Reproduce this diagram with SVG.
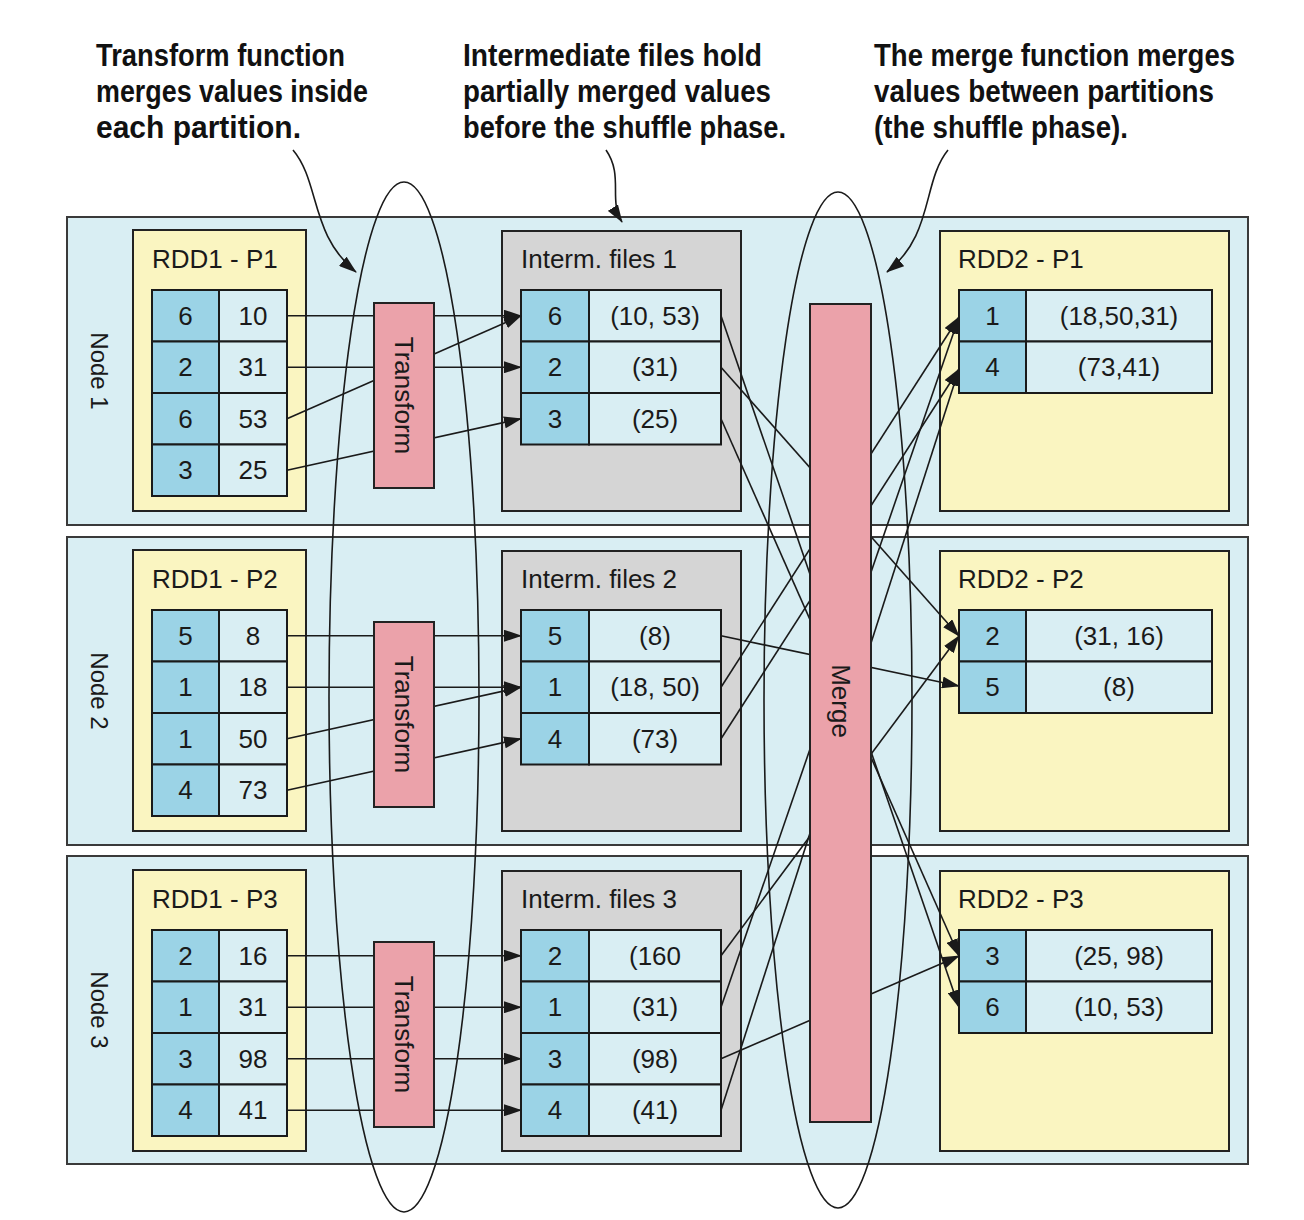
<svg xmlns="http://www.w3.org/2000/svg" width="1304" height="1220" viewBox="0 0 1304 1220">
<style>
.node{fill:#d9eef3;stroke:#3a3a3a;stroke-width:2}
.part{fill:#faf5c1;stroke:#222;stroke-width:2}
.interm{fill:#d5d5d5;stroke:#222;stroke-width:2}
.key{fill:#9bd3e6;stroke:#1a1a1a;stroke-width:2}
.val{fill:#d9eef3;stroke:#1a1a1a;stroke-width:2}
.fn{fill:#eba2aa;stroke:#222;stroke-width:2}
.t{font-family:"Liberation Sans",Arial,sans-serif;font-size:26px;fill:#1a1a1a}
.c{text-anchor:middle}
.nl{font-size:24px}
.conn line,.conn path{stroke:#1a1a1a;stroke-width:1.6;fill:none;marker-end:url(#ah)}
.ell{fill:none;stroke:#1a1a1a;stroke-width:1.6}
.ann{font-family:"Liberation Sans",Arial,sans-serif;font-weight:bold;font-size:31px;fill:#111}
</style>
<defs>
<marker id="ah" markerUnits="userSpaceOnUse" markerWidth="18" markerHeight="12" refX="17" refY="6" orient="auto"><path d="M0,0 L18,6 L0,12 z" fill="#1a1a1a"/></marker>
</defs>

<g id="node1">
<rect class="node" x="67" y="217" width="1181" height="308"/>
<text class="t c nl" transform="translate(100,371) rotate(90)" x="0" y="9">Node 1</text>
</g>
<g id="node2">
<rect class="node" x="67" y="537" width="1181" height="308"/>
<text class="t c nl" transform="translate(100,691) rotate(90)" x="0" y="9">Node 2</text>
</g>
<g id="node3">
<rect class="node" x="67" y="856" width="1181" height="308"/>
<text class="t c nl" transform="translate(100,1010) rotate(90)" x="0" y="9">Node 3</text>
</g>

<g id="rdd1-p1">
<rect class="part" x="133" y="230" width="173" height="281"/>
<text class="t" x="152" y="268">RDD1 - P1</text>
<rect class="key" x="152" y="290" width="67" height="51.5"/><rect class="val" x="219" y="290" width="68" height="51.5"/>
<rect class="key" x="152" y="341.5" width="67" height="51.5"/><rect class="val" x="219" y="341.5" width="68" height="51.5"/>
<rect class="key" x="152" y="393" width="67" height="51.5"/><rect class="val" x="219" y="393" width="68" height="51.5"/>
<rect class="key" x="152" y="444.5" width="67" height="51.5"/><rect class="val" x="219" y="444.5" width="68" height="51.5"/>
<text class="t c" x="185.5" y="324.75">6</text><text class="t c" x="253" y="324.75">10</text>
<text class="t c" x="185.5" y="376.25">2</text><text class="t c" x="253" y="376.25">31</text>
<text class="t c" x="185.5" y="427.75">6</text><text class="t c" x="253" y="427.75">53</text>
<text class="t c" x="185.5" y="479.25">3</text><text class="t c" x="253" y="479.25">25</text>
</g>
<g id="rdd1-p2">
<rect class="part" x="133" y="550" width="173" height="281"/>
<text class="t" x="152" y="588">RDD1 - P2</text>
<rect class="key" x="152" y="610" width="67" height="51.5"/><rect class="val" x="219" y="610" width="68" height="51.5"/>
<rect class="key" x="152" y="661.5" width="67" height="51.5"/><rect class="val" x="219" y="661.5" width="68" height="51.5"/>
<rect class="key" x="152" y="713" width="67" height="51.5"/><rect class="val" x="219" y="713" width="68" height="51.5"/>
<rect class="key" x="152" y="764.5" width="67" height="51.5"/><rect class="val" x="219" y="764.5" width="68" height="51.5"/>
<text class="t c" x="185.5" y="644.75">5</text><text class="t c" x="253" y="644.75">8</text>
<text class="t c" x="185.5" y="696.25">1</text><text class="t c" x="253" y="696.25">18</text>
<text class="t c" x="185.5" y="747.75">1</text><text class="t c" x="253" y="747.75">50</text>
<text class="t c" x="185.5" y="799.25">4</text><text class="t c" x="253" y="799.25">73</text>
</g>
<g id="rdd1-p3">
<rect class="part" x="133" y="870" width="173" height="281"/>
<text class="t" x="152" y="908">RDD1 - P3</text>
<rect class="key" x="152" y="930" width="67" height="51.5"/><rect class="val" x="219" y="930" width="68" height="51.5"/>
<rect class="key" x="152" y="981.5" width="67" height="51.5"/><rect class="val" x="219" y="981.5" width="68" height="51.5"/>
<rect class="key" x="152" y="1033" width="67" height="51.5"/><rect class="val" x="219" y="1033" width="68" height="51.5"/>
<rect class="key" x="152" y="1084.5" width="67" height="51.5"/><rect class="val" x="219" y="1084.5" width="68" height="51.5"/>
<text class="t c" x="185.5" y="964.75">2</text><text class="t c" x="253" y="964.75">16</text>
<text class="t c" x="185.5" y="1016.25">1</text><text class="t c" x="253" y="1016.25">31</text>
<text class="t c" x="185.5" y="1067.75">3</text><text class="t c" x="253" y="1067.75">98</text>
<text class="t c" x="185.5" y="1119.25">4</text><text class="t c" x="253" y="1119.25">41</text>
</g>

<g id="interm1">
<rect class="interm" x="502" y="231" width="239" height="280"/>
<text class="t" x="521" y="268">Interm. files 1</text>
<rect class="key" x="521" y="290" width="68" height="51.5"/><rect class="val" x="589" y="290" width="132" height="51.5"/>
<rect class="key" x="521" y="341.5" width="68" height="51.5"/><rect class="val" x="589" y="341.5" width="132" height="51.5"/>
<rect class="key" x="521" y="393" width="68" height="51.5"/><rect class="val" x="589" y="393" width="132" height="51.5"/>
<text class="t c" x="555" y="324.75">6</text><text class="t c" x="655" y="324.75">(10, 53)</text>
<text class="t c" x="555" y="376.25">2</text><text class="t c" x="655" y="376.25">(31)</text>
<text class="t c" x="555" y="427.75">3</text><text class="t c" x="655" y="427.75">(25)</text>
</g>
<g id="interm2">
<rect class="interm" x="502" y="551" width="239" height="280"/>
<text class="t" x="521" y="588">Interm. files 2</text>
<rect class="key" x="521" y="610" width="68" height="51.5"/><rect class="val" x="589" y="610" width="132" height="51.5"/>
<rect class="key" x="521" y="661.5" width="68" height="51.5"/><rect class="val" x="589" y="661.5" width="132" height="51.5"/>
<rect class="key" x="521" y="713" width="68" height="51.5"/><rect class="val" x="589" y="713" width="132" height="51.5"/>
<text class="t c" x="555" y="644.75">5</text><text class="t c" x="655" y="644.75">(8)</text>
<text class="t c" x="555" y="696.25">1</text><text class="t c" x="655" y="696.25">(18, 50)</text>
<text class="t c" x="555" y="747.75">4</text><text class="t c" x="655" y="747.75">(73)</text>
</g>
<g id="interm3">
<rect class="interm" x="502" y="871" width="239" height="280"/>
<text class="t" x="521" y="908">Interm. files 3</text>
<rect class="key" x="521" y="930" width="68" height="51.5"/><rect class="val" x="589" y="930" width="132" height="51.5"/>
<rect class="key" x="521" y="981.5" width="68" height="51.5"/><rect class="val" x="589" y="981.5" width="132" height="51.5"/>
<rect class="key" x="521" y="1033" width="68" height="51.5"/><rect class="val" x="589" y="1033" width="132" height="51.5"/>
<rect class="key" x="521" y="1084.5" width="68" height="51.5"/><rect class="val" x="589" y="1084.5" width="132" height="51.5"/>
<text class="t c" x="555" y="964.75">2</text><text class="t c" x="655" y="964.75">(160</text>
<text class="t c" x="555" y="1016.25">1</text><text class="t c" x="655" y="1016.25">(31)</text>
<text class="t c" x="555" y="1067.75">3</text><text class="t c" x="655" y="1067.75">(98)</text>
<text class="t c" x="555" y="1119.25">4</text><text class="t c" x="655" y="1119.25">(41)</text>
</g>

<g id="rdd2-p1">
<rect class="part" x="940" y="231" width="289" height="280"/>
<text class="t" x="958" y="268">RDD2 - P1</text>
<rect class="key" x="959" y="290" width="67" height="51.5"/><rect class="val" x="1026" y="290" width="186" height="51.5"/>
<rect class="key" x="959" y="341.5" width="67" height="51.5"/><rect class="val" x="1026" y="341.5" width="186" height="51.5"/>
<text class="t c" x="992.5" y="324.75">1</text><text class="t c" x="1119" y="324.75">(18,50,31)</text>
<text class="t c" x="992.5" y="376.25">4</text><text class="t c" x="1119" y="376.25">(73,41)</text>
</g>
<g id="rdd2-p2">
<rect class="part" x="940" y="551" width="289" height="280"/>
<text class="t" x="958" y="588">RDD2 - P2</text>
<rect class="key" x="959" y="610" width="67" height="51.5"/><rect class="val" x="1026" y="610" width="186" height="51.5"/>
<rect class="key" x="959" y="661.5" width="67" height="51.5"/><rect class="val" x="1026" y="661.5" width="186" height="51.5"/>
<text class="t c" x="992.5" y="644.75">2</text><text class="t c" x="1119" y="644.75">(31, 16)</text>
<text class="t c" x="992.5" y="696.25">5</text><text class="t c" x="1119" y="696.25">(8)</text>
</g>
<g id="rdd2-p3">
<rect class="part" x="940" y="871" width="289" height="280"/>
<text class="t" x="958" y="908">RDD2 - P3</text>
<rect class="key" x="959" y="930" width="67" height="51.5"/><rect class="val" x="1026" y="930" width="186" height="51.5"/>
<rect class="key" x="959" y="981.5" width="67" height="51.5"/><rect class="val" x="1026" y="981.5" width="186" height="51.5"/>
<text class="t c" x="992.5" y="964.75">3</text><text class="t c" x="1119" y="964.75">(25, 98)</text>
<text class="t c" x="992.5" y="1016.25">6</text><text class="t c" x="1119" y="1016.25">(10, 53)</text>
</g>

<g id="connectors" class="conn">
<line x1="287" y1="315.75" x2="521" y2="315.75"/>
<line x1="287" y1="367.25" x2="521" y2="367.25"/>
<line x1="287" y1="418.75" x2="521" y2="315.75"/>
<line x1="287" y1="470.25" x2="521" y2="418.75"/>
<line x1="287" y1="635.75" x2="521" y2="635.75"/>
<line x1="287" y1="687.25" x2="521" y2="687.25"/>
<line x1="287" y1="738.75" x2="521" y2="687.25"/>
<line x1="287" y1="790.25" x2="521" y2="738.75"/>
<line x1="287" y1="955.75" x2="521" y2="955.75"/>
<line x1="287" y1="1007.25" x2="521" y2="1007.25"/>
<line x1="287" y1="1058.75" x2="521" y2="1058.75"/>
<line x1="287" y1="1110.25" x2="521" y2="1110.25"/>
<line x1="721" y1="315.75" x2="959" y2="1007.25"/>
<line x1="721" y1="367.25" x2="959" y2="636"/>
<line x1="721" y1="418.75" x2="959" y2="956"/>
<line x1="721" y1="635.75" x2="959" y2="686"/>
<line x1="721" y1="687.25" x2="959" y2="317"/>
<line x1="721" y1="738.75" x2="959" y2="369"/>
<line x1="721" y1="955.75" x2="959" y2="636"/>
<line x1="721" y1="1007.25" x2="959" y2="317"/>
<line x1="721" y1="1058.75" x2="959" y2="956"/>
<line x1="721" y1="1110.25" x2="959" y2="369"/>
<path d="M 293 150 C 320 182, 310 235, 356 272"/>
<path d="M 606 150 C 624 176, 608 200, 622 222"/>
<path d="M 948 150 C 922 182, 934 235, 887 272"/>
</g>

<g id="transform1">
<rect class="fn" x="374" y="303" width="60" height="185"/>
<text class="t c" transform="translate(404,395.5) rotate(90)" x="0" y="9">Transform</text>
</g>
<g id="transform2">
<rect class="fn" x="374" y="622" width="60" height="185"/>
<text class="t c" transform="translate(404,714.5) rotate(90)" x="0" y="9">Transform</text>
</g>
<g id="transform3">
<rect class="fn" x="374" y="942" width="60" height="185"/>
<text class="t c" transform="translate(404,1034.5) rotate(90)" x="0" y="9">Transform</text>
</g>
<g id="merge">
<rect class="fn" x="810" y="304" width="61" height="818"/>
<text class="t c" transform="translate(840.5,701) rotate(90)" x="0" y="9">Merge</text>
</g>

<g id="transform-phase">
<ellipse class="ell" cx="404" cy="697" rx="75" ry="515"/>
</g>
<g id="shuffle-phase">
<ellipse class="ell" cx="838" cy="700" rx="74" ry="508"/>
</g>

<g id="annotations">
<text class="ann" x="96" y="66" textLength="249" lengthAdjust="spacingAndGlyphs">Transform function</text>
<text class="ann" x="96" y="102" textLength="272" lengthAdjust="spacingAndGlyphs">merges values inside</text>
<text class="ann" x="96" y="138" textLength="205" lengthAdjust="spacingAndGlyphs">each partition.</text>
<text class="ann" x="463" y="66" textLength="299" lengthAdjust="spacingAndGlyphs">Intermediate files hold</text>
<text class="ann" x="463" y="102" textLength="308" lengthAdjust="spacingAndGlyphs">partially merged values</text>
<text class="ann" x="463" y="138" textLength="323" lengthAdjust="spacingAndGlyphs">before the shuffle phase.</text>
<text class="ann" x="874" y="66" textLength="361" lengthAdjust="spacingAndGlyphs">The merge function merges</text>
<text class="ann" x="874" y="102" textLength="340" lengthAdjust="spacingAndGlyphs">values between partitions</text>
<text class="ann" x="874" y="138" textLength="254" lengthAdjust="spacingAndGlyphs">(the shuffle phase).</text>
</g>
</svg>
